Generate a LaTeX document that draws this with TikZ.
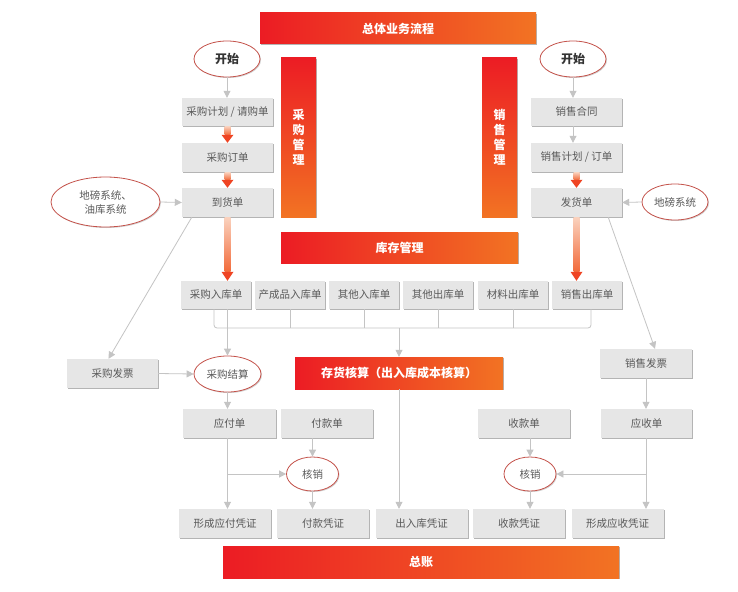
\documentclass[tikz,border=0pt]{standalone}
\usepackage{fontspec}
\setmainfont{Noto Sans CJK SC}
\usetikzlibrary{shapes.geometric,shadows,calc,arrows.meta}
\definecolor{barL}{HTML}{EC1C24}
\definecolor{barR}{HTML}{F27323}
\definecolor{boxfill}{HTML}{E6E6E6}
\definecolor{boxtext}{HTML}{595959}
\definecolor{shadowc}{HTML}{B4B4B4}
\definecolor{ellc}{HTML}{C4524A}
\definecolor{linec}{HTML}{C4C4C4}
\definecolor{arrTop}{HTML}{FAD2BE}
\definecolor{arrBot}{HTML}{F26A3A}
\definecolor{arrHead}{HTML}{EF4423}
\tikzset{
  box/.style={rectangle, fill=boxfill, text=boxtext, inner sep=0pt,
    font=\fontsize{10.5}{12}\selectfont, minimum width=91pt, minimum height=29pt,
    drop shadow={shadow xshift=1.2pt, shadow yshift=-1.2pt, fill=shadowc, opacity=1}},
  sbox/.style={box, minimum width=70pt, minimum height=28pt},
  hbar/.style={rectangle, left color=barL, right color=barR, text=white, inner sep=0pt,
    font=\bfseries\fontsize{12}{14}\selectfont,
    drop shadow={shadow xshift=1.2pt, shadow yshift=-1.2pt, fill=shadowc, opacity=1}},
  vbar/.style={rectangle, top color=barL, bottom color=barR, text=white, inner sep=0pt,
    align=center, font=\bfseries\fontsize{12}{15}\selectfont, minimum width=35pt, minimum height=159pt,
    drop shadow={shadow xshift=1.2pt, shadow yshift=-1.2pt, fill=shadowc, opacity=1}},
  ell/.style={ellipse, draw=ellc, line width=0.8pt, fill=white, text=boxtext, inner sep=0pt,
    minimum width=66pt, minimum height=36pt, font=\fontsize{10.5}{14}\selectfont, align=center,
    drop shadow={shadow xshift=1pt, shadow yshift=-1pt, fill=shadowc!60, opacity=1}},
  gline/.style={draw=linec, line width=0.8pt},
  garrow/.style={gline, -{Triangle[width=7pt,length=7pt]}},
}
\newcommand{\gradarrow}[3]{%
  \shade[top color=arrTop, bottom color=arrBot] ($(#1)+(-3,0)$) rectangle ($(#2)+(3,-#3)$);
  \fill[arrHead] ($(#2)+(-6,-#3)$) -- ($(#2)+(6,-#3)$) -- (#2) -- cycle;}
\begin{document}
\begin{tikzpicture}[x=1pt,y=-1pt]
\useasboundingbox[fill=white] (0,0) rectangle (738,591);

% bars
\node[hbar, minimum width=276pt, minimum height=31pt] (title) at (398,28.5) {总体业务流程};
\node[vbar] (pm) at (298.5,137.5) {采\\购\\管\\理};
\node[vbar] (sm) at (499.5,137.5) {销\\售\\管\\理};
\node[hbar, minimum width=237pt, minimum height=31pt] (kc) at (399.5,247.5) {库存管理};
\node[hbar, minimum width=208pt, minimum height=32pt] (ch) at (399,373) {存货核算（出入库成本核算）};
\node[hbar, minimum width=396pt, minimum height=32pt] (zz) at (421,562) {总账};

% purchase column
\node[ell, font=\bfseries\fontsize{12}{14}\selectfont, text=black!80] (start1) at (227,59) {开始};
\node[box, minimum height=28pt] (p1) at (227.5,112) {采购计划 / 请购单};
\node[box] (p2) at (227.5,157.5) {采购订单};
\node[box] (p3) at (227.5,202.5) {到货单};
\node[ell, minimum width=109pt, minimum height=50pt] (dby) at (105.5,202) {地磅系统、\\油库系统};

% sales column
\node[ell, font=\bfseries\fontsize{12}{14}\selectfont, text=black!80] (start2) at (573,59) {开始};
\node[box, minimum height=28pt] (s1) at (576.5,112) {销售合同};
\node[box] (s2) at (576.5,157.5) {销售计划 / 订单};
\node[box] (s3) at (576.5,202.5) {发货单};
\node[ell] (db) at (675,202) {地磅系统};

% stock row
\node[sbox] (i1) at (216,295) {采购入库单};
\node[sbox] (i2) at (290,295) {产成品入库单};
\node[sbox] (i3) at (364,295) {其他入库单};
\node[sbox] (i4) at (438,295) {其他出库单};
\node[sbox] (i5) at (513,295) {材料出库单};
\node[sbox] (i6) at (587,295) {销售出库单};

% middle
\node[box] (fp) at (112.5,373.5) {采购发票};
\node[ell, minimum width=67pt] (js) at (227.5,374) {采购结算};
\node[box, minimum width=92pt] (xp) at (646,363.5) {销售发票};

\node[box, minimum width=93pt] (yf) at (229.5,423.5) {应付单};
\node[box, minimum width=92pt] (fk) at (327,423.5) {付款单};
\node[box, minimum width=92pt] (sk) at (524,423.5) {收款单};
\node[box] (ys) at (646.5,423.5) {应收单};

\node[ell, minimum width=52pt, minimum height=34pt] (hx1) at (312.5,474) {核销};
\node[ell, minimum width=52pt, minimum height=34pt] (hx2) at (530,474) {核销};

\node[box, minimum width=92pt] (v1) at (225,523.5) {形成应付凭证};
\node[box, minimum width=92pt] (v2) at (323,523.5) {付款凭证};
\node[box, minimum width=92pt] (v3) at (421.5,523.5) {出入库凭证};
\node[box, minimum width=92pt] (v4) at (519,523.5) {收款凭证};
\node[box, minimum width=92pt] (v5) at (617.5,523.5) {形成应收凭证};

% top connectors
\draw[garrow] (start1.south) -- (start1.south |- p1.north);
\gradarrow{p1.south}{p2.north}{8}
\gradarrow{p2.south}{p3.north}{8}
\draw[garrow] (dby.east) -- (p3.west);
\coordinate (t1) at (p3.south |- i1.north);
\gradarrow{p3.south}{t1}{9}

\draw[garrow] (start2.south) -- (start2.south |- s1.north);
\draw[garrow] (start2.south |- s1.south) -- (start2.south |- s2.north);
\gradarrow{s2.south}{s3.north}{8}
\draw[garrow] (db.west) -- (s3.east);
\coordinate (t6) at (s3.south |- i6.north);
\gradarrow{s3.south}{t6}{9}

% diagonals
\draw[garrow] ($(p3.south west)+(10,0)$) -- ($(fp.north)+(-4,0)$);
\draw[garrow] ($(s3.south east)+(-14,0)$) -- ($(xp.north)+(9,0)$);

% collector
\coordinate (hl) at (0,328);
\draw[gline, rounded corners=3pt] ([xshift=-2pt]i1.south) |- ([xshift=4pt]i6.south |- hl) -- ([xshift=4pt]i6.south);
\foreach \n in {i2,i3,i4,i5} \draw[gline] (\n.south) -- (\n.south |- hl);
\draw[garrow] (ch.north |- hl) -- (ch.north);
\draw[garrow] (js.north |- i1.south) -- (js.north);
\draw[garrow] (fp.east) -- (js.west);

% bottom
\draw[garrow] (js.south) -- (js.south |- yf.north);
\draw[garrow] (js.south |- yf.south) -- (js.south |- v1.north);
\draw[garrow] (js.south |- hx1.west) -- (hx1.west);
\draw[garrow] (hx1.north |- fk.south) -- (hx1.north);
\draw[garrow] (hx1.south) -- (hx1.south |- v2.north);
\draw[garrow] (ch.south) -- (ch.south |- v3.north);
\draw[garrow] (hx2.north |- sk.south) -- (hx2.north);
\draw[garrow] (hx2.south) -- (hx2.south |- v4.north);
\draw[garrow] (xp.south) -- (xp.south |- ys.north);
\draw[garrow] (xp.south |- ys.south) -- (xp.south |- v5.north);
\draw[garrow] (xp.south |- hx2.east) -- (hx2.east);
\end{tikzpicture}
\end{document}
